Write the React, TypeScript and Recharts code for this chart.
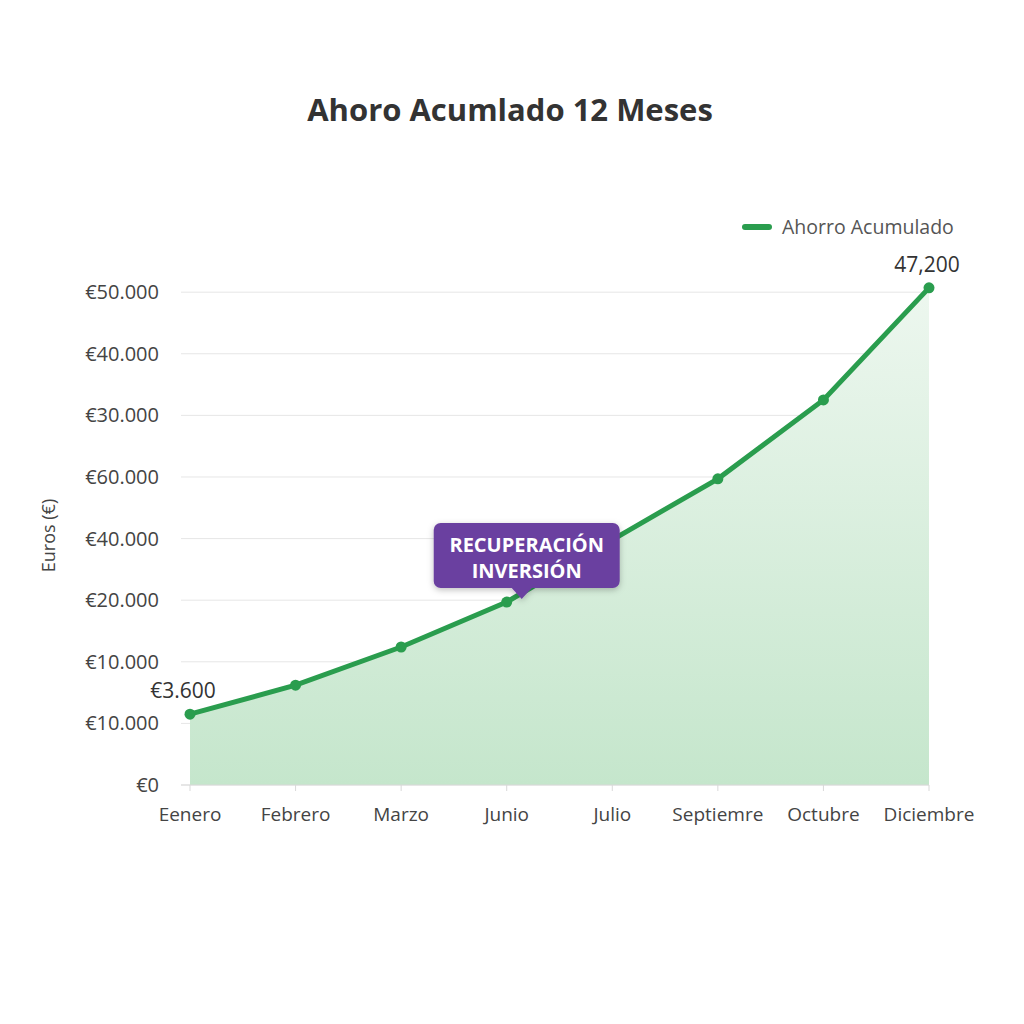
import React from 'react'
import { AreaChart, Area, XAxis, YAxis, CartesianGrid, Legend } from 'recharts'

const MONTHS = ['Eenero', 'Febrero', 'Marzo', 'Junio', 'Julio', 'Septiemre', 'Octubre', 'Diciembre']
// values are read in axis-tick units (the axis labels are not monotonic)
const SAVINGS = [1.15, 1.62, 2.24, 2.97, 3.98, 4.97, 6.25, 8.07]
const Y_TICKS = [0, 1, 2, 3, 4, 5, 6, 7, 8]
const Y_TICK_LABELS = ['€0', '€10.000', '€10.000', '€20.000', '€40.000', '€60.000', '€30.000', '€40.000', '€50.000']
const POINT_LABELS: Record<number, string> = { 0: '€3.600', 7: '47,200' }
const CALLOUT_INDEX = 3
const CALLOUT_LINES = ['RECUPERACIÓN', 'INVERSIÓN']

const TITLE = 'Ahoro Acumlado 12 Meses'
const SERIES_NAME = 'Ahorro Acumulado'
const Y_LABEL = 'Euros (€)'

const GREEN = '#2a9d4e'
const PURPLE = '#6b3fa0'
const FONT = '"Open Sans", "Noto Sans", sans-serif'

const data = MONTHS.map((m, i) => ({ month: m, ahorro: SAVINGS[i] }))

const renderPointLabel = (props: any) => {
  const { x, y, index } = props
  if (index === CALLOUT_INDEX) {
    const left = x - 73
    const top = y - 79
    const w = 186
    const h = 65
    const tipX = x + 15
    return (
      <g>
        <g filter="url(#calloutShadow)">
          <rect x={left} y={top} width={w} height={h} rx={7} fill={PURPLE} />
          <path d={`M${tipX - 10},${top + h} L${tipX},${y - 3} L${tipX + 10},${top + h} Z`} fill={PURPLE} />
        </g>
        {CALLOUT_LINES.map((line, k) => (
          <text
            key={line}
            x={left + w / 2}
            y={top + 21 + k * 26}
            textAnchor="middle"
            dominantBaseline="central"
            fill="#fff"
            fontSize={20}
            fontWeight={700}
            fontFamily={FONT}
          >
            {line}
          </text>
        ))}
      </g>
    )
  }
  const txt = POINT_LABELS[index]
  if (!txt) return null
  const dx = index === 0 ? -7 : -2
  return (
    <text x={x + dx} y={y - 16} textAnchor="middle" fill="#333" fontSize={21} fontFamily={FONT}>
      {txt}
    </text>
  )
}

const renderLegend = () => (
  <div style={{ display: 'flex', alignItems: 'center', fontFamily: FONT, fontSize: 19.5, color: '#555' }}>
    <span style={{ display: 'inline-block', width: 30, height: 6, borderRadius: 3, background: GREEN, marginRight: 10 }} />
    <span>{SERIES_NAME}</span>
  </div>
)

const App = () => {
  return (
    <div style={{ position: 'relative', width: 1008, height: 1000, background: '#fff' }}>
      <div
        style={{
          position: 'absolute',
          top: 81,
          left: 0,
          width: 1004,
          textAlign: 'center',
          fontFamily: FONT,
          fontWeight: 700,
          fontSize: 31,
          color: '#333',
          lineHeight: '40px',
        }}
      >
        {TITLE}
      </div>
      <AreaChart width={1008} height={1000} data={data} margin={{ top: 278, right: 87, left: 40, bottom: 193 }}>
        <defs>
          <linearGradient id="savingsFill" x1="0" y1="0" x2="0" y2="1">
            <stop offset="0%" stopColor="#edf7ef" />
            <stop offset="100%" stopColor="#c5e6cc" />
          </linearGradient>
          <filter id="calloutShadow" x="-20%" y="-30%" width="140%" height="160%">
            <feDropShadow dx="0" dy="2" stdDeviation="3" floodColor="#000" floodOpacity="0.25" />
          </filter>
        </defs>
        <CartesianGrid vertical={false} stroke="#e6e6e6" horizontalValues={Y_TICKS} />
        <XAxis
          dataKey="month"
          padding={{ left: 9, right: 0 }}
          stroke="#d9d9d9"
          tickSize={6}
          tickMargin={17}
          tick={{ fill: '#444', fontSize: 19, fontFamily: FONT }}
          height={30}
        />
        <YAxis
          width={133}
          domain={[0, 8.1]}
          ticks={Y_TICKS}
          tickFormatter={(v: number) => Y_TICK_LABELS[v]}
          axisLine={false}
          tickLine={false}
          tickMargin={16}
          tick={{ fill: '#444', fontSize: 20, fontFamily: FONT }}
          label={{
            content: (p: any) => {
              const vb = p.viewBox
              const cx = vb.x
              const cy = vb.y + vb.height / 2
              return (
                <text
                  x={cx}
                  y={cy}
                  transform={`rotate(-90 ${cx} ${cy})`}
                  textAnchor="middle"
                  dominantBaseline="central"
                  fill="#444"
                  fontSize={18}
                  fontFamily={FONT}
                >
                  {Y_LABEL}
                </text>
              )
            },
          }}
        />
        <Legend
          layout="horizontal"
          verticalAlign="middle"
          align="center"
          content={renderLegend}
          wrapperStyle={{ top: 205, left: 734, width: 'auto' }}
        />
        <Area
          type="linear"
          dataKey="ahorro"
          name={SERIES_NAME}
          stroke={GREEN}
          strokeWidth={5}
          fill="url(#savingsFill)"
          fillOpacity={1}
          dot={{ r: 5.5, fill: GREEN, stroke: GREEN, strokeWidth: 0 }}
          activeDot={false}
          label={renderPointLabel}
          isAnimationActive={false}
        />
      </AreaChart>
    </div>
  )
}

export default App
